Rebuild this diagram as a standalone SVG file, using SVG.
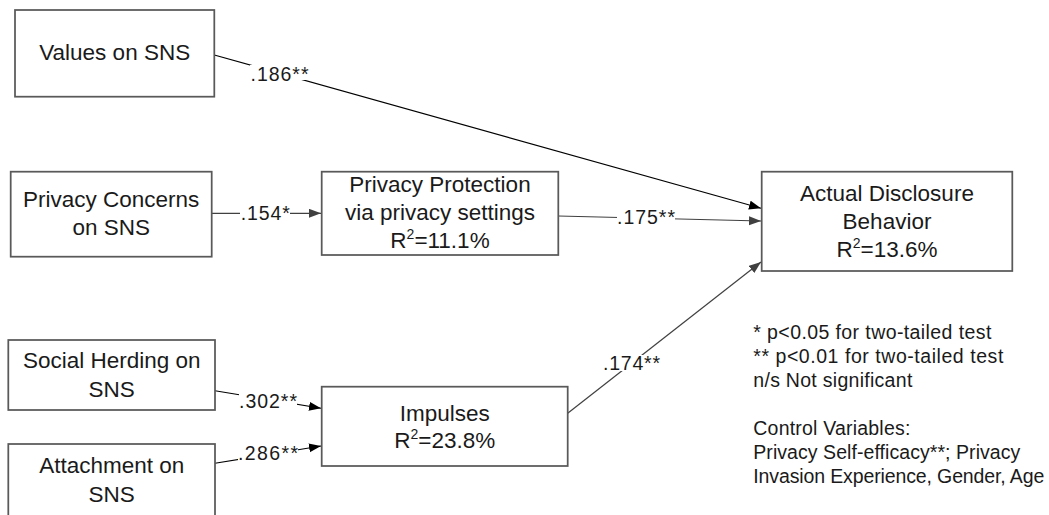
<svg xmlns="http://www.w3.org/2000/svg" width="1049" height="515" viewBox="0 0 1049 515">
<style>
.box{fill:#fff;stroke:#595959;stroke-width:1.75}
.nt{font-family:"Liberation Sans",Arial,sans-serif;font-size:22.5px;fill:#1a1a1a;text-anchor:middle}
.lb{font-family:"Liberation Sans",Arial,sans-serif;font-size:19.5px;fill:#1a1a1a;text-anchor:middle}
.lg{font-family:"Liberation Sans",Arial,sans-serif;font-size:19.5px;fill:#1a1a1a}
.ln{fill:none;stroke:#404040;stroke-width:1.2}
.lnk{fill:none;stroke:#000;stroke-width:1.1}
.bg{fill:#fff}
</style>
<defs>
<marker id="ah" markerUnits="userSpaceOnUse" markerWidth="13" markerHeight="10" refX="12" refY="4.5" orient="auto">
<path d="M0,0 L12,4.5 L0,9 z" fill="#404040"/>
</marker>
<marker id="ahk" markerUnits="userSpaceOnUse" markerWidth="13" markerHeight="10" refX="12" refY="4.5" orient="auto">
<path d="M0,0 L12,4.5 L0,9 z" fill="#000"/>
</marker>
</defs>
<g id="connectors">
<line class="lnk" x1="214.3" y1="55" x2="761" y2="208.3" marker-end="url(#ahk)"/>
<line class="ln" x1="211.7" y1="213.3" x2="321" y2="213.3" marker-end="url(#ah)"/>
<line class="ln" x1="558.3" y1="216" x2="761" y2="221" marker-end="url(#ah)"/>
<line class="ln" x1="567.7" y1="413.3" x2="761" y2="262" marker-end="url(#ah)"/>
<line class="lnk" x1="215" y1="390.7" x2="321" y2="408.3" marker-end="url(#ahk)"/>
<line class="lnk" x1="215" y1="463.3" x2="321" y2="446" marker-end="url(#ahk)"/>
<g id="labels">
<rect class="bg" x="250" y="65" width="59" height="15"/>
<text class="lb" x="279.5" y="81" textLength="58" lengthAdjust="spacing">.186**</text>
<rect class="bg" x="240" y="205" width="50" height="16"/>
<text class="lb" x="265.3" y="220" textLength="49" lengthAdjust="spacing">.154*</text>
<rect class="bg" x="617" y="209" width="58" height="16"/>
<text class="lb" x="646" y="224" textLength="58" lengthAdjust="spacing">.175**</text>
<rect class="bg" x="603" y="355" width="57" height="16"/>
<text class="lb" x="631.5" y="370" textLength="57" lengthAdjust="spacing">.174**</text>
<rect class="bg" x="239" y="394" width="58" height="15"/>
<text class="lb" x="268" y="408" textLength="58" lengthAdjust="spacing">.302**</text>
<rect class="bg" x="238" y="446" width="60" height="15"/>
<text class="lb" x="268" y="460" textLength="60" lengthAdjust="spacing">.286**</text>
</g>
</g>
<g id="values">
<rect class="box" x="15" y="10" width="199.3" height="86.7"/>
<text class="nt" x="114.7" y="60">Values on SNS</text>
</g>
<g id="concerns">
<rect class="box" x="10.7" y="171.7" width="201" height="85"/>
<text class="nt" x="111.2" y="207.3">Privacy Concerns</text>
<text class="nt" x="111.2" y="235">on SNS</text>
</g>
<g id="protection">
<rect class="box" x="321.7" y="171.7" width="236.6" height="83.3"/>
<text class="nt" x="440" y="191.7">Privacy Protection</text>
<text class="nt" x="440" y="220">via privacy settings</text>
<text class="nt" x="440" y="248.3">R<tspan dy="-9" font-size="14">2</tspan><tspan dy="9">=11.1%</tspan></text>
</g>
<g id="herding">
<rect class="box" x="8.3" y="340" width="206.7" height="70"/>
<text class="nt" x="111.7" y="368.3">Social Herding on</text>
<text class="nt" x="111.7" y="396.7">SNS</text>
</g>
<g id="attachment">
<rect class="box" x="8.3" y="444" width="206.7" height="90"/>
<text class="nt" x="111.7" y="473.3">Attachment on</text>
<text class="nt" x="111.7" y="501.7">SNS</text>
</g>
<g id="impulses">
<rect class="box" x="321.7" y="386.7" width="246" height="79.3"/>
<text class="nt" x="444.7" y="421">Impulses</text>
<text class="nt" x="444.7" y="447.5">R<tspan dy="-9" font-size="14">2</tspan><tspan dy="9">=23.8%</tspan></text>
</g>
<g id="disclosure">
<rect class="box" x="761.7" y="171.7" width="250.6" height="99.3"/>
<text class="nt" x="887" y="200.7">Actual Disclosure</text>
<text class="nt" x="887" y="229">Behavior</text>
<text class="nt" x="887" y="256.7">R<tspan dy="-9" font-size="14">2</tspan><tspan dy="9">=13.6%</tspan></text>
</g>
<g id="legend">
<text class="lg" x="753.3" y="339.3" textLength="238" lengthAdjust="spacing">* p&lt;0.05 for two-tailed test</text>
<text class="lg" x="753.3" y="363.3" textLength="250" lengthAdjust="spacing">** p&lt;0.01 for two-tailed test</text>
<text class="lg" x="753.3" y="387.3" textLength="159" lengthAdjust="spacing">n/s Not significant</text>
<text class="lg" x="753.3" y="435" textLength="157" lengthAdjust="spacing">Control Variables:</text>
<text class="lg" x="753.3" y="459.3" textLength="267" lengthAdjust="spacing">Privacy Self-efficacy**; Privacy</text>
<text class="lg" x="753.3" y="483.3" textLength="291" lengthAdjust="spacing">Invasion Experience, Gender, Age</text>
</g>
</svg>
